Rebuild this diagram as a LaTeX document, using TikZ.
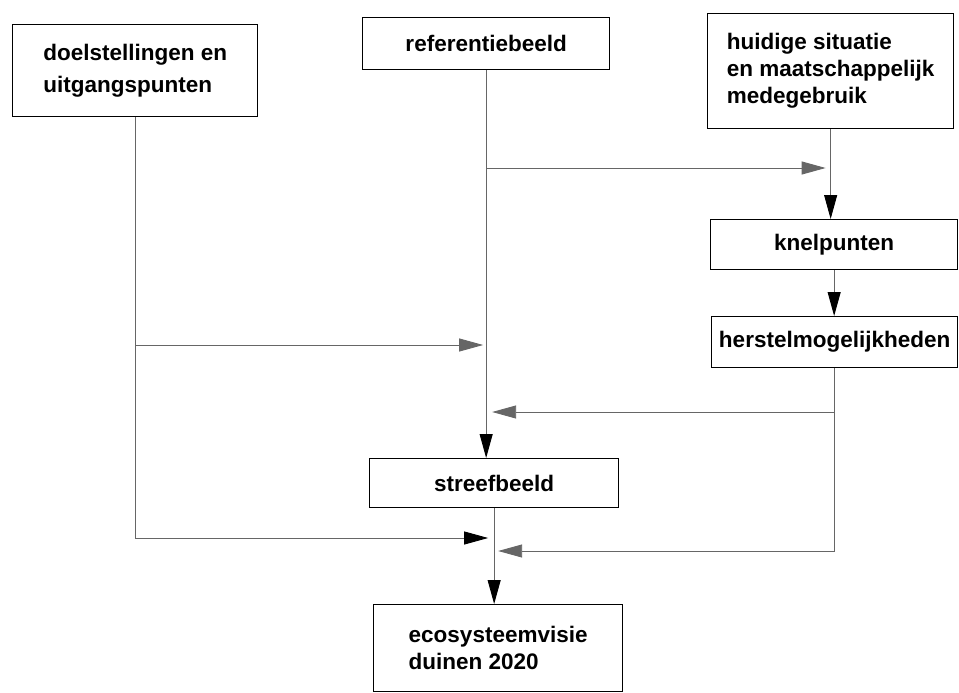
\documentclass[tikz,border=0pt]{standalone}
\usepackage{fontspec}
\setmainfont{Liberation Sans}
\usepackage{tikz}
\usetikzlibrary{arrows.meta, positioning}

\begin{document}
\begin{tikzpicture}[x=1pt, y=-1pt,
        blok/.style={draw, line width=1.3pt, anchor=north west, align=left, inner sep=0pt,
            font=\bfseries\fontsize{22.5}{27}\selectfont},
        lijn/.style={draw=black!60, line width=0.9pt},
        pijlzwart/.style={lijn, -{Triangle[length=24pt, width=13pt, color=black]}},
        pijlgrijs/.style={lijn, -{Triangle[length=24pt, width=13pt, color=black!60]}}]
        \useasboundingbox (0,0) rectangle (959,693);

        % Blokken
        \node[blok, minimum width=245pt, minimum height=92pt] (doel) at (12,24) {doelstellingen en\\[5pt]uitgangspunten};
        \node[blok, minimum width=247pt, minimum height=52pt] (ref) at (362,17) {referentiebeeld};
        \node[blok, minimum width=246pt, minimum height=115pt] (huidig) at (707,13) {huidige situatie\\en maatschappelijk\\medegebruik};
        \node[blok, minimum width=247pt, minimum height=50pt] (knel) at (710,219) {knelpunten};
        \node[blok, minimum width=246pt, minimum height=51pt] (herstel) at (711,316) {herstelmogelijkheden};
        \node[blok, minimum width=249pt, minimum height=49pt] (streef) at (369,458) {streefbeeld};
        \node[blok, minimum width=249pt, minimum height=87pt] (eco) at (373,604) {ecosysteemvisie\\duinen 2020};

        % Aftakpunten
        \coordinate (r1) at (ref.south |- 0,168);
        \coordinate (d1) at (doel.south |- 0,345);
        \coordinate (d2) at (doel.south |- 0,538);
        \coordinate (h1) at (herstel.south |- 0,412);
        \coordinate (h2) at (herstel.south |- 0,551);

        % Rechterkolom
        \draw[pijlgrijs, shorten >=5pt] (r1) -- (r1 -| huidig.south);
        \draw[pijlzwart] (huidig.south) -- (huidig.south |- knel.north);
        \draw[pijlzwart] (knel.south) -- (knel.south |- herstel.north);
        \draw[lijn] (herstel.south) -- (h2);
        \draw[pijlgrijs, shorten >=6pt] (h1) -- (h1 -| ref.south);
        \draw[pijlgrijs, shorten >=4pt] (h2) -- (h2 -| streef.south);

        % Middenkolom
        \draw[pijlzwart] (ref.south) -- (ref.south |- streef.north);
        \draw[pijlzwart] (streef.south) -- (streef.south |- eco.north);

        % Linkerkolom
        \draw[pijlgrijs, shorten >=3pt] (d1) -- (d1 -| ref.south);
        \draw[pijlzwart, shorten >=6pt] (doel.south) |- (d2 -| streef.south);
\end{tikzpicture}
\end{document}
